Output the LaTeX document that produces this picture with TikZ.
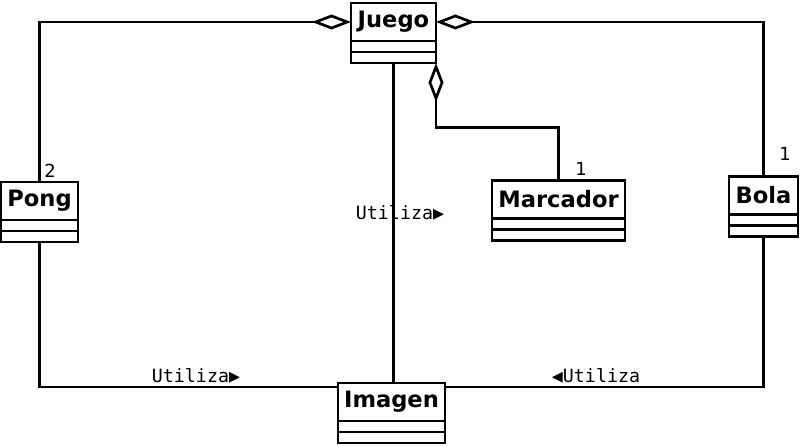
\documentclass[tikz,border=0pt]{standalone}
\usepackage{fontspec}
\setmainfont{DejaVu Sans}
\newfontfamily\relfont{DejaVu Sans Mono}
\usetikzlibrary{positioning,arrows.meta}
\begin{document}
\begin{tikzpicture}[x=1pt,y=-1pt,line width=2.7pt,
    classname/.style={draw,outer sep=0pt,inner sep=0pt,minimum height=38pt,
      font=\fontsize{22.6}{26}\selectfont\bfseries},
    classpart/.style={draw,outer sep=0pt,inner sep=0pt,minimum height=11pt},
    rel/.style={font=\relfont\fontsize{18.3}{21}\selectfont,inner sep=0pt},
    mult/.style={font=\fontsize{18}{21}\selectfont,inner sep=0pt},
    agg/.style={-{Diamond[open,length=39pt,width=15pt]}}]
        \useasboundingbox (0,0) rectangle (800,446);

        \node (juego) [classname, minimum width=85pt] at (393.5,22) {Juego};
        \node (juego-a) [classpart, minimum width=85pt, below=0pt of juego] {};
        \node (juego-b) [classpart, minimum width=85pt, below=0pt of juego-a] {};

        \node (pong) [classname, minimum width=77pt] at (39.5,201) {Pong};
        \node (pong-a) [classpart, minimum width=77pt, below=0pt of pong] {};
        \node (pong-b) [classpart, minimum width=77pt, below=0pt of pong-a] {};

        \node (marcador) [classname, minimum width=133pt] at (558.5,199.5) {Marcador};
        \node (marcador-a) [classpart, minimum width=133pt, below=0pt of marcador] {};
        \node (marcador-b) [classpart, minimum width=133pt, below=0pt of marcador-a] {};

        \node (bola) [classname, minimum width=69pt] at (763.5,195.5) {Bola};
        \node (bola-a) [classpart, minimum width=69pt, below=0pt of bola] {};
        \node (bola-b) [classpart, minimum width=69pt, below=0pt of bola-a] {};

        \node (imagen) [classname, minimum width=107pt] at (391.5,402) {Imagen};
        \node (imagen-a) [classpart, minimum width=107pt, below=0pt of imagen] {};
        \node (imagen-b) [classpart, minimum width=107pt, below=0pt of imagen-a] {};

        \draw [agg] (pong.north) |- (juego.west);
        \draw [agg] (bola.north) |- (juego.east);
        \draw [agg] (marcador.north) -- ++(0,-53) -| (juego-b.south east);
        \draw (juego-b.south) -- (juego-b.south |- imagen.north);
        \draw (pong-b.south) |- ([yshift=-4pt]imagen.north west);
        \draw (bola-b.south) |- ([yshift=-4pt]imagen.north east);

        \node (use-juego) [rel] at (400,213) {Utiliza▶};
        \node (use-pong) [rel] at (196,376) {Utiliza▶};
        \node (use-bola) [rel] at (596,376) {◀Utiliza};

        \node (mult-pong) [mult] at (50,171) {2};
        \node (mult-marcador) [mult] at (581,169) {1};
        \node (mult-bola) [mult] at (785,154) {1};
      \end{tikzpicture}
\end{document}
